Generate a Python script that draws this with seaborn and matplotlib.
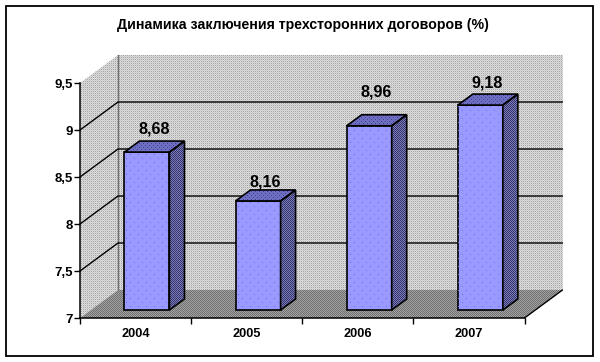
import numpy as np
import pandas as pd
import matplotlib
matplotlib.use("Agg")
import matplotlib.pyplot as plt
from matplotlib.patches import Polygon, Rectangle
from matplotlib.colors import to_rgba
import seaborn as sns

years = ["2004", "2005", "2006", "2007"]
values = [8.68, 8.16, 8.96, 9.18]
value_labels = ["8,68", "8,16", "8,96", "9,18"]
y_ticks = [7, 7.5, 8, 8.5, 9, 9.5]
y_tick_labels = ["7", "7,5", "8", "8,5", "9", "9,5"]
title = "Динамика заключения трехсторонних договоров (%)"
label_lift_px = [23, 19, 34, 22]

W, H = 600, 362
DEPTH_X, DEPTH_Y = 38, 28      # plot box depth in pixels
BAR_DX, BAR_DY = 11.4, 8       # bars stand part-way into the box
BAR_SIDE_X, BAR_SIDE_Y = 15, 11

sns.set_theme(style="white")
plt.rcParams["font.family"] = ["Liberation Sans", "DejaVu Sans"]
plt.rcParams["font.weight"] = "bold"

fig = plt.figure(figsize=(W / 100, H / 100), dpi=100, facecolor="white")


def pixel_axes(z):
    a = fig.add_axes([0, 0, 1, 1], zorder=z)
    a.set_xlim(0, W)
    a.set_ylim(H, 0)
    a.axis("off")
    a.patch.set_alpha(0)
    return a


def tile(pattern):
    """pattern: 2-D list of colours, repeated over the whole canvas"""
    p = np.array([[to_rgba(c) for c in row] for row in pattern])
    reps = (H // p.shape[0] + 1, W // p.shape[1] + 1, 1)
    return np.tile(p, reps)[:H, :W]


def fill(a, pts, pattern, z=1):
    poly = Polygon(pts, closed=True, transform=a.transData, facecolor="none", edgecolor="none")
    a.add_patch(poly)
    im = a.imshow(tile(pattern), extent=(0, W, H, 0), interpolation="nearest", aspect="auto", zorder=z)
    im.set_clip_path(poly)
    a.set_xlim(0, W)
    a.set_ylim(H, 0)


bg = pixel_axes(0)
main = fig.add_axes([80 / W, (H - 318) / H, 444.5 / W, 235 / H], zorder=1)
bars_ax = fig.add_axes([(80 + BAR_DX) / W, (H - 318 + BAR_DY) / H, 444.5 / W, 235 / H], zorder=2)
fg = pixel_axes(3)

# front plane: the value and category scales
main.patch.set_alpha(0)
main.set_xlim(-0.5, 3.5)
main.set_ylim(7, 9.5)
main.set_yticks(y_ticks, y_tick_labels, fontsize=9.5, fontweight="bold", color="black")
main.set_xticks(np.arange(-0.5, 4), [""] * 5)
main.set_xticks(range(4), years, minor=True, fontsize=9.2, fontweight="bold", color="black")
main.tick_params(axis="both", which="major", length=4, width=1, color="black", direction="out", left=True, bottom=True)
main.tick_params(axis="y", pad=1)
main.tick_params(axis="x", which="minor", length=0, pad=7)
for s in ("top", "right"):
    main.spines[s].set_visible(False)
for s in ("left", "bottom"):
    main.spines[s].set_color("black")
    main.spines[s].set_linewidth(1.1)
bg.text(302.5, 25, title, ha="center", va="center", fontsize=10.2, fontweight="bold", color="black", zorder=6)

# box geometry from the value scale
to_px = lambda ax, x, y: bg.transData.inverted().transform(ax.transData.transform((x, y)))
x0, y_floor = to_px(main, -0.5, 7)
x1, y_top = to_px(main, 3.5, 9.5)
bx0, bx1 = x0 + DEPTH_X, x1 + DEPTH_X
wall = [["#cccccc", "#dcdcdc"], ["#dcdcdc", "#a4a4a4"]]
floor = [["#6f6f6f", "#a3a3a3"], ["#a3a3a3", "#6f6f6f"]]
fill(bg, [(bx0, y_top - DEPTH_Y), (bx1, y_top - DEPTH_Y), (bx1, y_floor - DEPTH_Y), (bx0, y_floor - DEPTH_Y)], wall)
fill(bg, [(x0, y_top), (bx0, y_top - DEPTH_Y), (bx0, y_floor - DEPTH_Y), (x0, y_floor)], wall)
fill(bg, [(x0, y_floor), (bx0, y_floor - DEPTH_Y), (bx1, y_floor - DEPTH_Y), (x1, y_floor)], floor)
bg.plot([bx0, bx0], [y_top - DEPTH_Y, y_floor - DEPTH_Y], color="#707070", lw=1, zorder=3)
bg.plot([x1, bx1], [y_floor, y_floor - DEPTH_Y], color="black", lw=1, zorder=3)
for v in y_ticks[1:-1]:
    _, yy = to_px(main, 0, v)
    bg.plot([x0, bx0, bx1], [yy, yy - DEPTH_Y, yy - DEPTH_Y], color="black", lw=1, zorder=3)

# bars
df = pd.DataFrame({"year": years, "value": values})
sns.barplot(data=df, x="year", y="value", ax=bars_ax, width=0.405, color="#9999ff",
            saturation=1, edgecolor="black", linewidth=1.2, errorbar=None)
bars_ax.set_xlim(-0.5, 3.5)
bars_ax.set_ylim(7, 9.5)
bars_ax.axis("off")
bars_ax.patch.set_alpha(0)

side = [["#33336e", "#7b7bb5"], ["#7b7bb5", "#33336e"]]
cap = [["#6a6ac0", "#7272c4", "#6a6ac0", "#7272c4"],
       ["#7272c4", "#3e3e90", "#7272c4", "#6a6ac0"],
       ["#6a6ac0", "#7272c4", "#6a6ac0", "#7272c4"],
       ["#7272c4", "#6a6ac0", "#7272c4", "#3e3e90"]]
none = (0, 0, 0, 0)
dots = [[none] * 8 for _ in range(8)]
dots[2][2] = "#6f6fe6"
dots[6][6] = "#6f6fe6"

for bar, val, text, lift in zip(bars_ax.patches, values, value_labels, label_lift_px):
    bar.set_y(7)
    bar.set_height(val - 7)
    bar.set_clip_on(False)
    xl, yt = to_px(bars_ax, bar.get_x(), val)
    xr, yb = to_px(bars_ax, bar.get_x() + bar.get_width(), 7)
    sx, sy = BAR_SIDE_X, BAR_SIDE_Y
    top_pts = [(xl, yt), (xl + sx, yt - sy), (xr + sx, yt - sy), (xr, yt)]
    side_pts = [(xr, yt), (xr + sx, yt - sy), (xr + sx, yb - sy), (xr, yb)]
    fill(fg, top_pts, cap)
    fill(fg, side_pts, side)
    fill(fg, [(xl, yt), (xr, yt), (xr, yb), (xl, yb)], dots)
    for pts in (top_pts, side_pts):
        fg.add_patch(Polygon(pts, closed=True, facecolor="none", edgecolor="black", lw=1.2, zorder=4))
    fg.text((xl + xr + sx) / 2 - 0.5, yt - lift, text, ha="center", va="center",
            fontsize=11.6, fontweight="bold", color="black", zorder=5)

# chart frame
bg.add_patch(Rectangle((5.5, 5.5), 587.5, 350.5, facecolor="none", edgecolor="black", lw=1.3, zorder=5))

fig.savefig("out.png", dpi=100)
